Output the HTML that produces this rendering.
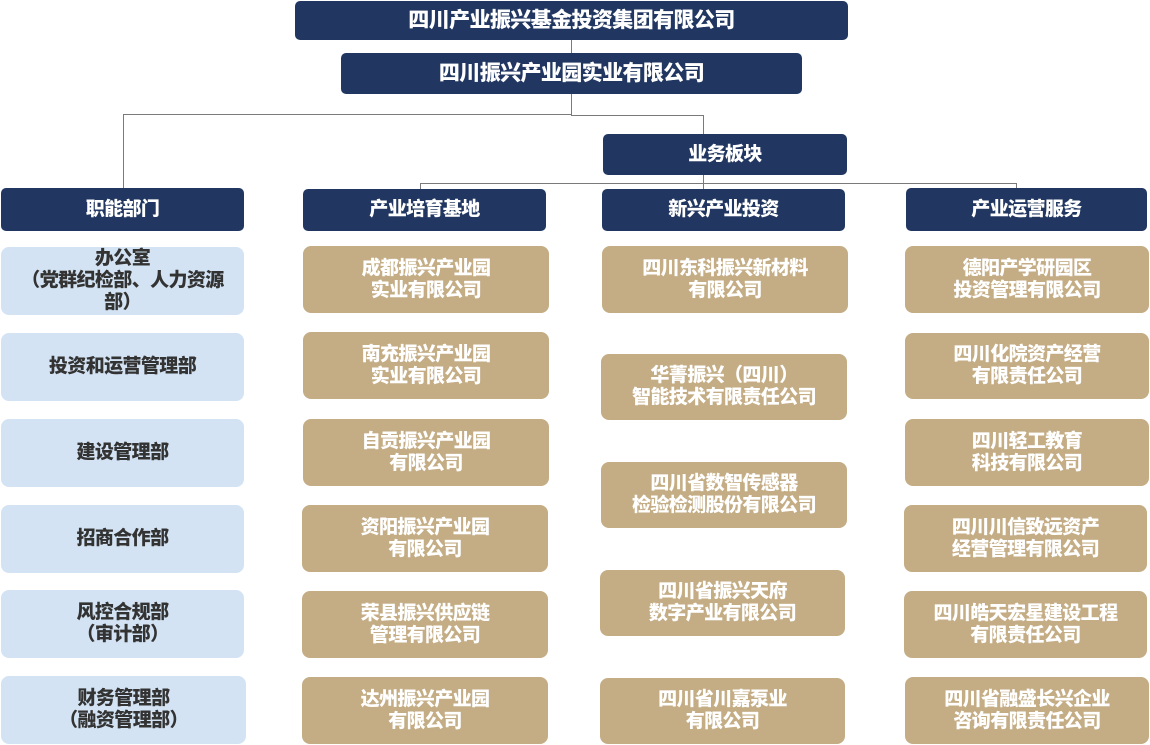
<!DOCTYPE html>
<html><head><meta charset="utf-8"><style>
html,body{margin:0;padding:0;background:#fff;width:1150px;height:745px;overflow:hidden;position:relative}
.b{position:absolute;display:flex;align-items:center;justify-content:center;text-align:center;box-sizing:border-box;border-radius:8px;font-family:"Liberation Sans","Noto Sans CJK SC",sans-serif;font-weight:900;font-size:19px;line-height:22px;letter-spacing:-0.6px}
.n{background:#213761;color:#fff;border-radius:5px}
.t{background:#c4ad85;color:#fff}
.l{background:#d3e3f3;color:#333}
.ln{position:absolute;background:#7a7a7a}
</style></head><body>
<div class="ln" style="left:571px;top:40px;width:1px;height:14px"></div>
<div class="ln" style="left:571px;top:94px;width:1px;height:21px"></div>
<div class="ln" style="left:123px;top:114px;width:449px;height:1px"></div>
<div class="ln" style="left:571px;top:115px;width:133px;height:1px"></div>
<div class="ln" style="left:703px;top:115px;width:1px;height:20px"></div>
<div class="ln" style="left:123px;top:114px;width:1px;height:75px"></div>
<div class="ln" style="left:703px;top:175px;width:1px;height:15px"></div>
<div class="ln" style="left:420px;top:183px;width:297px;height:1px"></div>
<div class="ln" style="left:703px;top:183px;width:314px;height:1px"></div>
<div class="ln" style="left:420px;top:183px;width:1px;height:7px"></div>
<div class="ln" style="left:1016px;top:183px;width:1px;height:6px"></div>

<div class="b n" style="left:295px;top:1px;width:553px;height:39px;font-size:21px">四川产业振兴基金投资集团有限公司</div>
<div class="b n" style="left:341px;top:53px;width:461px;height:41px;font-size:21px">四川振兴产业园实业有限公司</div>
<div class="b n" style="left:603px;top:134px;width:244px;height:41px">业务板块</div>
<div class="b n" style="left:1px;top:188px;width:243px;height:43px">职能部门</div>
<div class="b n" style="left:303px;top:189px;width:243px;height:42px">产业培育基地</div>
<div class="b n" style="left:602px;top:189px;width:243px;height:42px">新兴产业投资</div>
<div class="b n" style="left:906px;top:188px;width:241px;height:43px">产业运营服务</div>

<div class="b l" style="left:1px;top:247px;width:243px;height:68px">办公室<br>（党群纪检部、人力资源<br>部）</div>
<div class="b l" style="left:1px;top:333px;width:243px;height:68px">投资和运营管理部</div>
<div class="b l" style="left:1px;top:419px;width:243px;height:68px">建设管理部</div>
<div class="b l" style="left:1px;top:505px;width:243px;height:68px">招商合作部</div>
<div class="b l" style="left:1px;top:590px;width:243px;height:68px">风控合规部<br>（审计部）</div>
<div class="b l" style="left:1px;top:676px;width:245px;height:68px">财务管理部<br>（融资管理部）</div>

<div class="b t" style="left:303px;top:246px;width:246px;height:67px">成都振兴产业园<br>实业有限公司</div>
<div class="b t" style="left:303px;top:332px;width:246px;height:67px">南充振兴产业园<br>实业有限公司</div>
<div class="b t" style="left:303px;top:419px;width:246px;height:67px">自贡振兴产业园<br>有限公司</div>
<div class="b t" style="left:302px;top:505px;width:246px;height:67px">资阳振兴产业园<br>有限公司</div>
<div class="b t" style="left:302px;top:591px;width:246px;height:67px">荣县振兴供应链<br>管理有限公司</div>
<div class="b t" style="left:302px;top:677px;width:246px;height:67px">达州振兴产业园<br>有限公司</div>

<div class="b t" style="left:602px;top:246px;width:246px;height:67px">四川东科振兴新材料<br>有限公司</div>
<div class="b t" style="left:601px;top:354px;width:246px;height:66px">华菁振兴（四川）<br>智能技术有限责任公司</div>
<div class="b t" style="left:601px;top:462px;width:246px;height:66px">四川省数智传感器<br>检验检测股份有限公司</div>
<div class="b t" style="left:600px;top:570px;width:245px;height:66px">四川省振兴天府<br>数字产业有限公司</div>
<div class="b t" style="left:600px;top:678px;width:245px;height:66px">四川省川嘉泵业<br>有限公司</div>

<div class="b t" style="left:905px;top:246px;width:244px;height:67px">德阳产学研园区<br>投资管理有限公司</div>
<div class="b t" style="left:905px;top:333px;width:244px;height:66px">四川化院资产经营<br>有限责任公司</div>
<div class="b t" style="left:905px;top:419px;width:244px;height:67px">四川轻工教育<br>科技有限公司</div>
<div class="b t" style="left:904px;top:505px;width:243px;height:67px">四川川信致远资产<br>经营管理有限公司</div>
<div class="b t" style="left:904px;top:591px;width:243px;height:67px">四川皓天宏星建设工程<br>有限责任公司</div>
<div class="b t" style="left:905px;top:677px;width:244px;height:67px">四川省融盛长兴企业<br>咨询有限责任公司</div>
</body></html>
